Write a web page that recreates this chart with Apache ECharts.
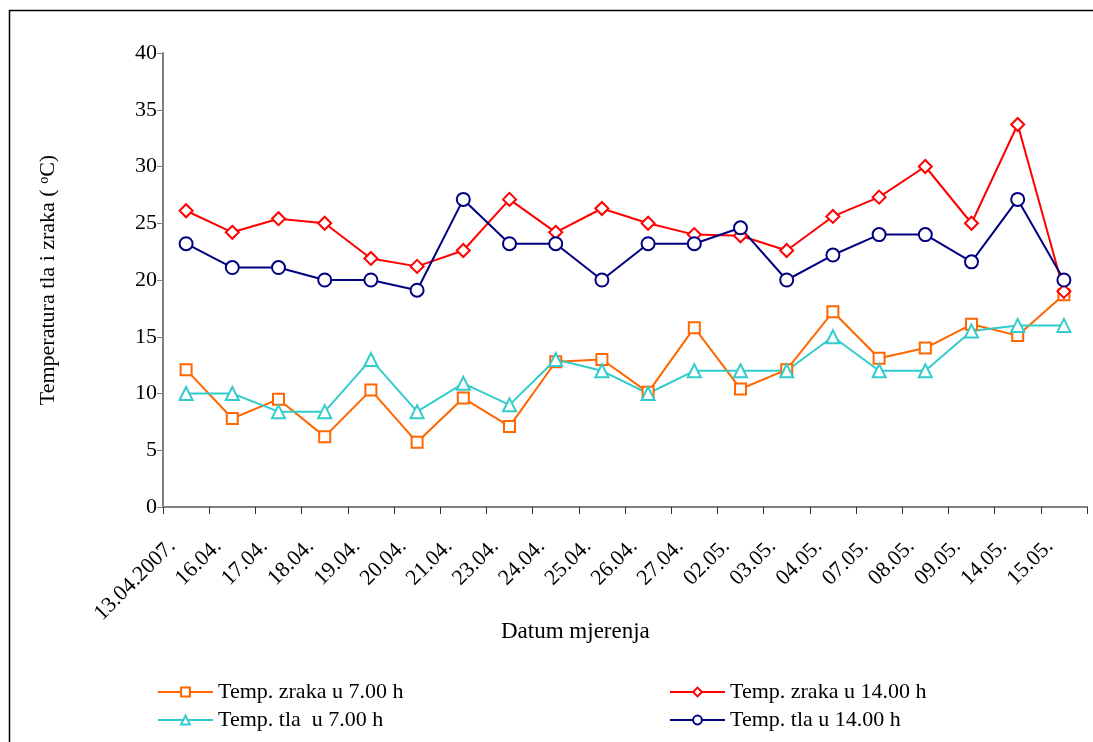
<!DOCTYPE html>
<html>
<head>
<meta charset="utf-8">
<script src="https://cdn.jsdelivr.net/npm/echarts@6/dist/echarts.min.js"></script>
<style>
html,body{margin:0;padding:0;background:#fff;}
#chart{width:1093px;height:742px;}
</style>
</head>
<body>
<div id="chart"></div>
<script>
const categories = ['13.04.2007.','16.04.','17.04.','18.04.','19.04.','20.04.','21.04.','23.04.','24.04.','25.04.','26.04.','27.04.','02.05.','03.05.','04.05.','07.05.','08.05.','09.05.','14.05.','15.05.'];
const zraka7 = [12.1, 7.8, 9.5, 6.2, 10.3, 5.7, 9.6, 7.1, 12.8, 13.0, 10.1, 15.8, 10.4, 12.1, 17.2, 13.1, 14.0, 16.1, 15.1, 18.7];
const zraka14 = [26.1, 24.2, 25.4, 25.0, 21.9, 21.2, 22.6, 27.1, 24.2, 26.3, 25.0, 24.0, 23.9, 22.6, 25.6, 27.3, 30.0, 25.0, 33.7, 19.0];
const tla7 = [10.0, 10.0, 8.4, 8.4, 13.0, 8.4, 10.9, 9.0, 13.0, 12.0, 10.0, 12.0, 12.0, 12.0, 15.0, 12.0, 12.0, 15.5, 16.0, 16.0];
const tla14 = [23.2, 21.1, 21.1, 20.0, 20.0, 19.1, 27.1, 23.2, 23.2, 20.0, 23.2, 23.2, 24.6, 20.0, 22.2, 24.0, 24.0, 21.6, 27.1, 20.0];
const yTicks = [0, 5, 10, 15, 20, 25, 30, 35, 40];
const names = ['Temp. zraka u 7.00 h', 'Temp. zraka u 14.00 h', 'Temp. tla  u 7.00 h', 'Temp. tla u 14.00 h'];

const FONT = '"Liberation Serif", "Times New Roman", serif';
const chart = echarts.init(document.getElementById('chart'));

function mkSeries(name, data, color, symbol, size) {
  return {
    name: name, type: 'line', data: data,
    symbol: symbol, symbolSize: size, showAllSymbol: true,
    lineStyle: {color: color, width: 2},
    itemStyle: {color: color, borderColor: color, borderWidth: 2},
    emphasis: {disabled: true},
    animation: false, z: 3
  };
}
function mkLegend(name, left, top) {
  return {
    data: [name], left: left, top: top, itemWidth: 55, itemHeight: 11,
    textStyle: {fontFamily: FONT, fontSize: 22, color: '#000'},
    selectedMode: false, padding: 0
  };
}

chart.setOption({
  animation: false,
  backgroundColor: '#fff',
  grid: {left: 163, right: 6, top: 53, bottom: 235, containLabel: false},
  legend: [
    mkLegend(names[0], 157, 681),
    mkLegend(names[1], 669, 681),
    mkLegend(names[2], 157, 709),
    mkLegend(names[3], 669, 709)
  ],
  xAxis: {
    type: 'category', data: categories, boundaryGap: true,
    axisLine: {lineStyle: {color: '#808080', width: 2}},
    axisTick: {show: true, length: 7, lineStyle: {color: '#333', width: 1}},
    axisLabel: {rotate: 45, margin: 22, padding: [0, 20, 0, 0], interval: 0,
      fontFamily: FONT, fontSize: 22, color: '#000'},
    splitLine: {show: false}
  },
  yAxis: {
    type: 'value', min: yTicks[0], max: yTicks[yTicks.length - 1], interval: 5,
    name: 'Temperatura tla i zraka ( {sup|o}C)',
    nameLocation: 'middle', nameRotate: 90, nameGap: 104,
    nameTextStyle: {fontFamily: FONT, fontSize: 22, color: '#000',
      rich: {sup: {fontFamily: FONT, fontSize: 14, verticalAlign: 'top', color: '#000'}}},
    axisLine: {show: true, lineStyle: {color: '#808080', width: 2}},
    axisTick: {show: true, inside: false, length: 6, lineStyle: {color: '#808080', width: 1}},
    axisLabel: {margin: 6, fontFamily: FONT, fontSize: 22, color: '#000'},
    splitLine: {show: false}
  },
  graphic: [
    {type: 'rect', shape: {x: 9.5, y: 10.5, width: 1200, height: 800},
     style: {fill: 'none', stroke: '#000', lineWidth: 1.5}, silent: true, z: 0},
    {type: 'text', left: 501, top: 620,
     style: {text: 'Datum mjerenja', fontFamily: FONT, fontSize: 23, fill: '#000'}}
  ],
  series: [
    mkSeries(names[0], zraka7, '#FF6600', 'emptyRect', 11),
    mkSeries(names[1], zraka14, '#FF0000', 'emptyDiamond', 13),
    mkSeries(names[2], tla7, '#33CCCC', 'emptyTriangle', 13),
    mkSeries(names[3], tla14, '#000080', 'emptyCircle', 13)
  ]
});
</script>
</body>
</html>
